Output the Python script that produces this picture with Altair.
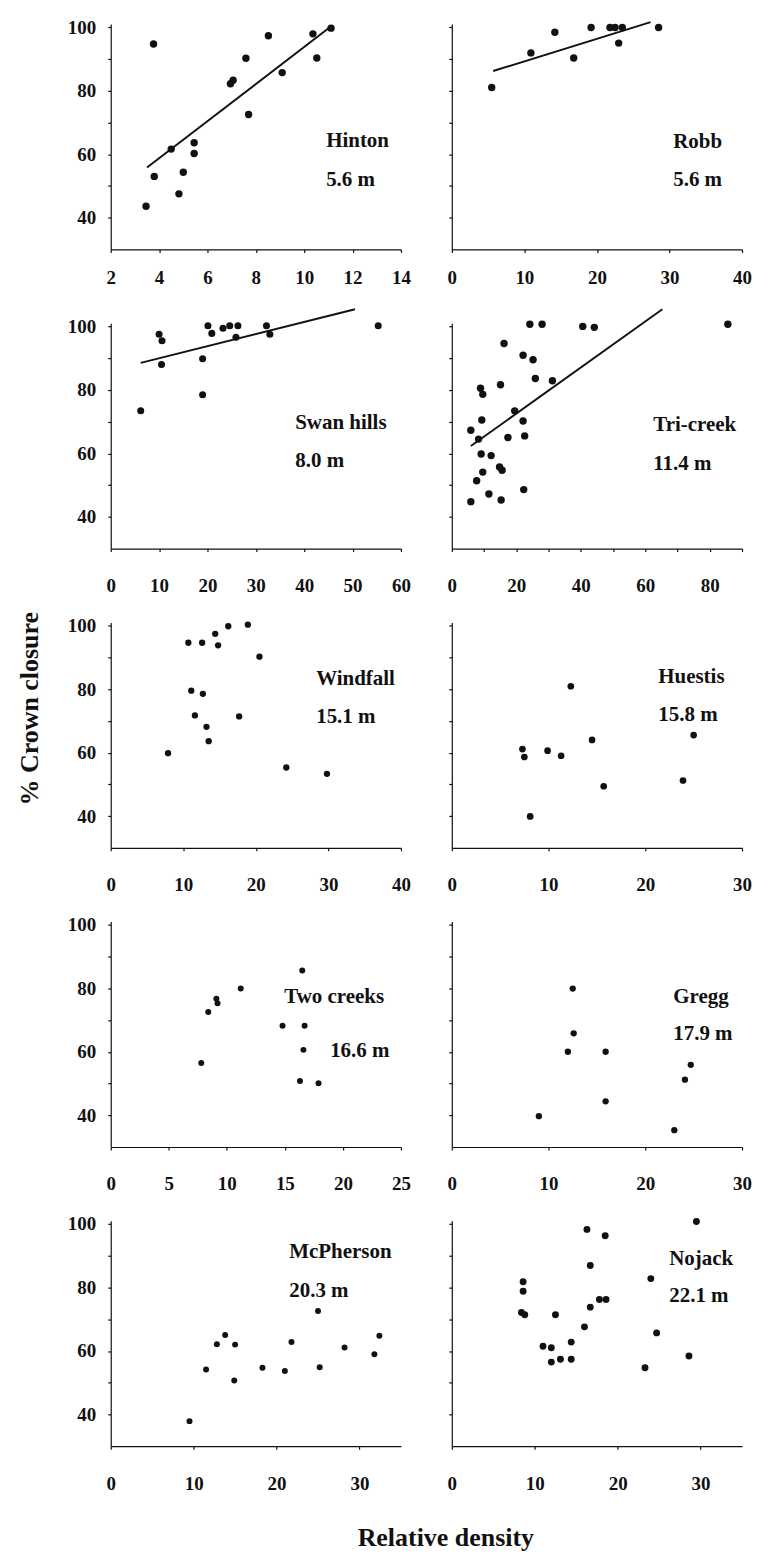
import altair as alt
import pandas as pd

# ---------------- data ----------------
sites = ["Hinton", "Robb", "Swan hills", "Tri-creek", "Windfall", "Huestis",
         "Two creeks", "Gregg", "McPherson", "Nojack"]
heights_m = [5.6, 5.6, 8.0, 11.4, 15.1, 15.8, 16.6, 17.9, 20.3, 22.1]

hinton_x = [3.77, 3.80, 3.46, 4.50, 4.82, 5.00, 5.45, 5.45, 6.95, 7.06, 7.59, 7.70, 8.52, 9.09, 10.36, 10.52, 11.11]
hinton_y = [94.7, 53.0, 43.6, 61.6, 47.5, 54.3, 63.6, 60.2, 82.2, 83.3, 90.2, 72.5, 97.3, 85.7, 97.9, 90.3, 99.7]

robb_x = [5.5, 10.9, 14.2, 16.8, 19.2, 21.8, 22.5, 23.5, 23.0, 28.5]
robb_y = [81.0, 91.9, 98.4, 90.3, 99.9, 99.9, 99.9, 99.9, 95.0, 99.9]

swan_x = [6.2, 10.0, 10.6, 10.5, 19.0, 19.0, 20.1, 20.9, 23.2, 24.6, 26.3, 25.9, 32.2, 32.9, 55.3]
swan_y = [73.4, 97.5, 95.5, 88.0, 89.8, 78.5, 100.2, 97.8, 99.4, 100.2, 100.2, 96.6, 100.2, 97.5, 100.2]

tri_x = [24.2, 28.0, 40.6, 44.2, 85.6, 16.2, 22.1, 25.2, 25.9, 31.2, 8.9, 9.6, 15.1, 19.5, 9.3,
         22.1, 5.9, 8.3, 17.4, 22.6, 9.1, 12.2, 14.8, 15.6, 9.6, 7.7, 11.5, 15.3, 5.9, 22.3]
tri_y = [100.7, 100.7, 100.0, 99.7, 100.7, 94.6, 90.9, 89.5, 83.6, 82.9, 80.5, 78.6, 81.6, 73.4, 70.5,
         70.2, 67.3, 64.5, 65.0, 65.5, 59.8, 59.3, 55.7, 54.7, 54.1, 51.4, 47.2, 45.3, 44.8, 48.6]

wind_x = [10.7, 12.6, 14.4, 14.8, 16.2, 18.9, 20.5, 11.1, 12.7, 11.6, 17.7, 13.2, 13.5, 7.9, 24.2, 29.8]
wind_y = [94.6, 94.6, 97.4, 93.8, 99.8, 100.3, 90.2, 79.5, 78.5, 71.7, 71.4, 68.1, 63.6, 59.8, 55.3, 53.3]

hue_x = [12.3, 14.5, 7.3, 7.5, 9.9, 11.3, 15.7, 25.0, 23.9, 8.1]
hue_y = [80.9, 64.0, 61.1, 58.6, 60.6, 59.0, 49.4, 65.5, 51.2, 39.9]

two_x = [16.5, 11.2, 9.1, 9.2, 8.4, 14.8, 16.7, 16.6, 7.8, 16.3, 17.9]
two_y = [85.6, 79.9, 76.7, 75.3, 72.5, 68.2, 68.2, 60.6, 56.5, 50.8, 50.1]

gregg_x = [12.5, 12.6, 12.0, 15.9, 24.7, 24.1, 15.9, 9.0, 23.0]
gregg_y = [79.9, 65.8, 60.0, 60.0, 55.9, 51.2, 44.4, 39.7, 35.3]

mcp_x = [25.0, 13.8, 12.8, 15.0, 21.8, 28.2, 32.4, 31.8, 11.5, 18.3, 21.0, 25.2, 14.9, 9.5]
mcp_y = [72.6, 65.0, 62.1, 62.0, 62.8, 61.1, 64.8, 59.0, 54.2, 54.7, 53.7, 54.9, 50.7, 37.9]

noj_x = [29.5, 16.3, 18.5, 16.7, 24.0, 8.6, 8.6, 17.8, 18.6, 16.7, 8.4, 8.8, 12.5, 16.0, 24.7,
         14.4, 11.0, 12.0, 28.6, 12.0, 13.1, 14.4, 23.3]
noj_y = [100.8, 98.3, 96.3, 86.9, 82.8, 81.8, 78.8, 76.2, 76.2, 73.8, 72.1, 71.4, 71.4, 67.6, 65.7,
         62.8, 61.5, 61.0, 58.4, 56.5, 57.4, 57.4, 54.7]

# fitted lines (end points)
fit_sites = ["Hinton", "Robb", "Swan hills", "Tri-creek"]
fit_x0 = [3.5, 5.7, 6.2, 5.9]
fit_y0 = [55.8, 86.2, 88.5, 62.3]
fit_x1 = [11.1, 27.4, 50.5, 65.3]
fit_y1 = [100.2, 101.6, 105.4, 105.4]

# axis ticks
x_domains = [[2, 14], [0, 40], [0, 60], [0, 90], [0, 40], [0, 30], [0, 25], [0, 30], [0, 35], [0, 35]]
x_ticks = [list(range(2, 15, 2)), list(range(0, 41, 10)), list(range(0, 61, 10)), list(range(0, 91, 10)),
           list(range(0, 41, 10)), list(range(0, 31, 10)), list(range(0, 26, 5)), list(range(0, 31, 10)),
           list(range(0, 31, 10)), list(range(0, 31, 10))]
x_label_step = [2, 10, 10, 20, 10, 10, 5, 10, 10, 10]
y_ticks = [40, 50, 60, 70, 80, 90, 100]

series = [(hinton_x, hinton_y), (robb_x, robb_y), (swan_x, swan_y), (tri_x, tri_y),
          (wind_x, wind_y), (hue_x, hue_y), (two_x, two_y), (gregg_x, gregg_y),
          (mcp_x, mcp_y), (noj_x, noj_y)]

# ---------------- styles ----------------
FONT = "Liberation Serif"
INK = "#111111"
W, H = 291, 226
Y_DOMAIN = [30, 101]
POINT_SIZE = [55, 55, 50, 55, 40, 45, 36, 40, 36, 48]
# label placement inside each panel (pixels): name x, name y, height x, height y
LABEL_POS = [(216, 117, 216, 156), (222, 118, 222, 156), (185, 100, 185, 138), (202, 102, 202, 141),
             (206, 57, 206, 95), (207, 55, 207, 93), (174, 76, 220, 130), (222, 76, 222, 113),
             (179, 31, 179, 70), (218, 38, 218, 75)]


def make_panel(k):
    xs, ys = series[k]
    row = k // 2
    left = (k % 2 == 0)
    step = x_label_step[k]
    xaxis = alt.Axis(values=x_ticks[k], title=None, tickSize=3,
                     labelPadding=16 if row == 0 else 25,
                     labelExpr=f"datum.value % {step} == 0 ? datum.label : ''",
                     labelFlush=False, labelOverlap=False)
    yaxis_kwargs = dict(values=y_ticks, tickSize=3, labelPadding=12, labels=left,
                        labelExpr="datum.value % 20 == 0 ? datum.label : ''",
                        labelOverlap=False)
    if k == 4:
        yaxis_kwargs.update(title="% Crown closure", titleFont=FONT, titleFontSize=26,
                            titleFontWeight="bold", titleColor=INK, titlePadding=25, titleY=86)
    else:
        yaxis_kwargs.update(title=None)
    yaxis = alt.Axis(**yaxis_kwargs)
    xenc = alt.X("density:Q", scale=alt.Scale(domain=x_domains[k], nice=False, zero=False), axis=xaxis)
    yenc = alt.Y("closure:Q", scale=alt.Scale(domain=Y_DOMAIN, nice=False, zero=False), axis=yaxis)

    df = pd.DataFrame({"density": xs, "closure": ys})
    layers = [alt.Chart(df).mark_circle(color=INK, opacity=1, size=POINT_SIZE[k]).encode(x=xenc, y=yenc)]

    if sites[k] in fit_sites:
        j = fit_sites.index(sites[k])
        fdf = pd.DataFrame({"density": [fit_x0[j], fit_x1[j]], "closure": [fit_y0[j], fit_y1[j]]})
        layers.append(alt.Chart(fdf).mark_line(color=INK, strokeWidth=1.9).encode(x=xenc, y=yenc))

    nx, ny, hx, hy = LABEL_POS[k]
    text_style = dict(align="left", baseline="middle", font=FONT, fontSize=21,
                      fontWeight="bold", color=INK)
    name_df = pd.DataFrame({"t": [sites[k]]})
    ht_df = pd.DataFrame({"t": [f"{heights_m[k]:.1f} m"]})
    layers.append(alt.Chart(name_df).mark_text(**text_style).encode(
        text="t:N", x=alt.value(nx), y=alt.value(ny)))
    layers.append(alt.Chart(ht_df).mark_text(**text_style).encode(
        text="t:N", x=alt.value(hx), y=alt.value(hy)))

    return alt.layer(*layers).properties(width=W, height=H)


panels = [make_panel(k) for k in range(10)]

chart = alt.concat(
    *panels, columns=2, bounds="flush",
    spacing=alt.RowColnumber(row=74, column=51),
).properties(
    title=alt.TitleParams("Relative density", orient="bottom", anchor="middle", frame="group",
                          font=FONT, fontSize=26, fontWeight="bold", color=INK, offset=32, dx=336),
    padding={"left": 8, "top": 8, "right": 0, "bottom": 0},
).configure_view(stroke=None).configure_axis(
    grid=False, domainColor=INK, tickColor=INK, domainWidth=1.2, tickWidth=1.2,
    labelFont=FONT, labelFontSize=19, labelFontWeight="bold", labelColor=INK,
)

chart.save("out.html", embed_options={"renderer": "svg", "actions": False})
